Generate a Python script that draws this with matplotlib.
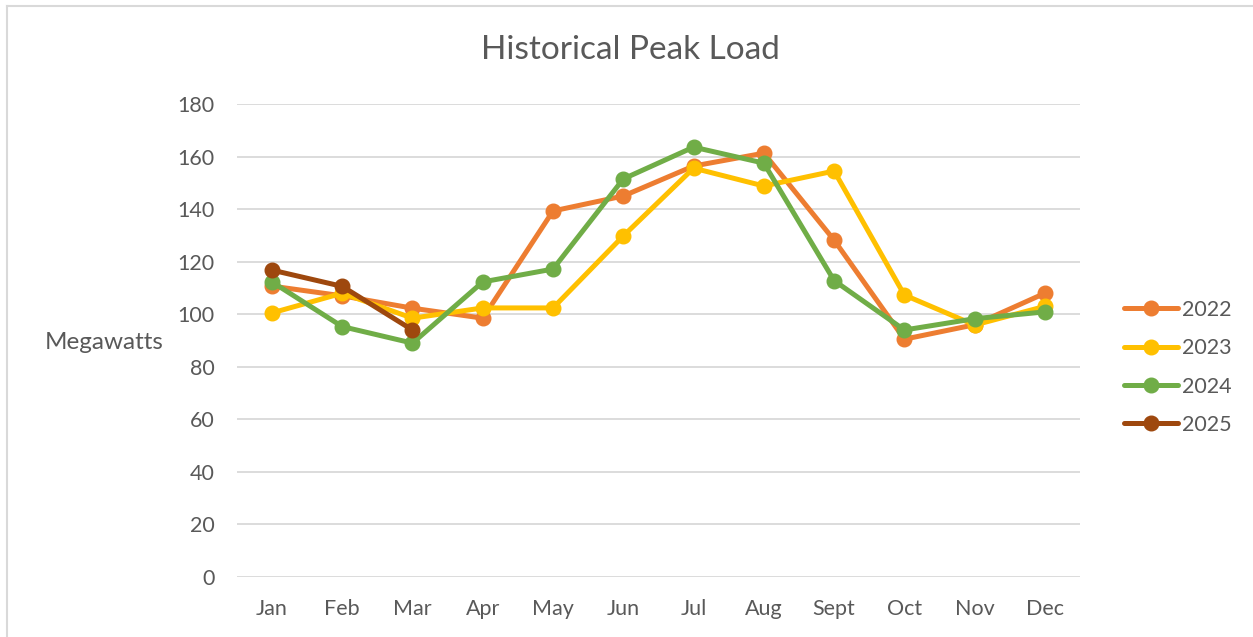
import matplotlib.pyplot as plt
from matplotlib.lines import Line2D

months = ['Jan', 'Feb', 'Mar', 'Apr', 'May', 'Jun', 'Jul', 'Aug', 'Sept', 'Oct', 'Nov', 'Dec']
load_2022 = [110.7, 107, 102.3, 98.5, 139.3, 145, 156.4, 161.3, 128.2, 90.5, 96, 108]
load_2023 = [100.5, 108, 98.5, 102.4, 102.4, 129.8, 155.6, 148.8, 154.5, 107.3, 95.9, 103]
load_2024 = [112.3, 95.3, 89, 112.3, 117.2, 151.5, 163.6, 157.5, 112.8, 94, 98.3, 100.9]
load_2025 = [116.8, 110.6, 94]
yticks = [0, 20, 40, 60, 80, 100, 120, 140, 160, 180]

plt.rcParams['font.family'] = ['Lato', 'DejaVu Sans']
txt = '#595959'

fig = plt.figure(figsize=(12.53, 6.37), dpi=100)
ax = fig.add_axes([0.189, 0.0942, 0.673, 0.7425])

series = [
    ('2022', load_2022, '#ED7D31'),
    ('2023', load_2023, '#FFC000'),
    ('2024', load_2024, '#70AD47'),
    ('2025', load_2025, '#9E480E'),
]
for name, vals, col in series:
    ax.plot(range(len(vals)), vals, color=col, lw=3.6, marker='o', ms=10.5,
            label=name, solid_capstyle='round', solid_joinstyle='round')

ax.set_xlim(-0.5, 11.5)
ax.set_ylim(0, 180)
ax.set_yticks(yticks)
ax.set_xticks(range(len(months)))
ax.set_xticklabels(months)
ax.grid(axis='y', color='#d9d9d9', lw=1.3)
ax.set_axisbelow(True)
for s in ax.spines.values():
    s.set_visible(False)
ax.tick_params(length=0, labelsize=15.5, colors=txt)
ax.tick_params(axis='x', pad=16)
ax.tick_params(axis='y', pad=16)

ax.set_ylabel('Megawatts', rotation=0, fontsize=17.5, color=txt, ha='center', va='center')
ax.yaxis.set_label_coords(-0.157, 0.495)

fig.text(0.503, 0.9215, 'Historical Peak Load', ha='center', va='center',
         fontsize=24, color=txt)

ax.legend(loc='center left', bbox_to_anchor=(1.052, 0.443), frameon=False,
          fontsize=15.5, labelcolor=txt, handlelength=2.5, labelspacing=0.85,
          handletextpad=0.2, borderpad=0, borderaxespad=0)

fig.add_artist(Line2D([7 / 1253, 7 / 1253], [0, 1 - 6 / 637], color='#d9d9d9', lw=1.5))
fig.add_artist(Line2D([7 / 1253, 1], [1 - 6 / 637, 1 - 6 / 637], color='#d9d9d9', lw=1.5))

fig.savefig('out.png', dpi=100)
